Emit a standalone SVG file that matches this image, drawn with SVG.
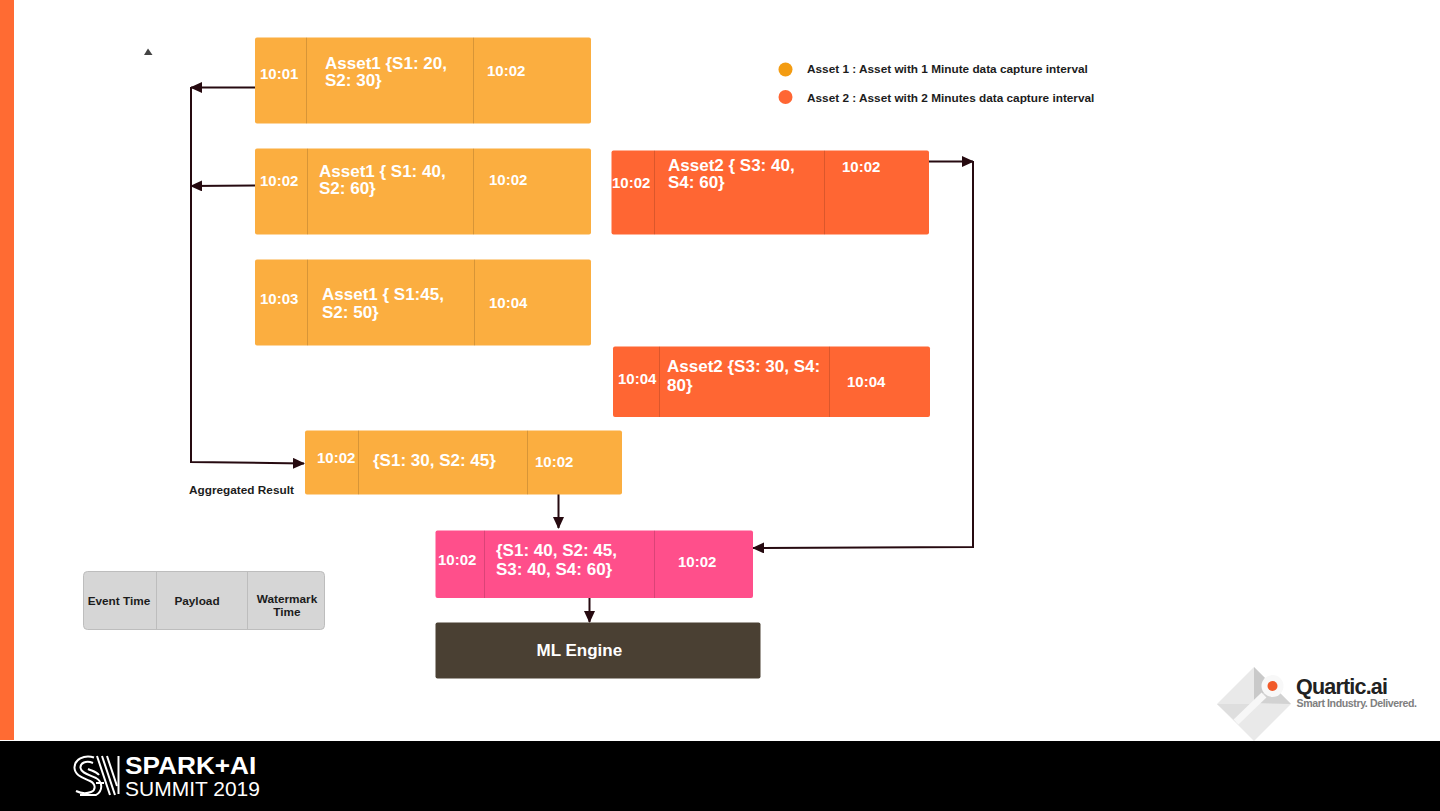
<svg xmlns="http://www.w3.org/2000/svg" width="1440" height="811" viewBox="0 0 1440 811">
<style>
text{font-family:"Liberation Sans",Arial,sans-serif;font-weight:700}
.w{fill:#fff}.t{font-size:15px}.p{font-size:17px}
.k{fill:#1c1c1c;font-size:11.800px}
.o{fill:#fbae40}.r{fill:#ff6633}.d{stroke:#000;stroke-opacity:.14;stroke-width:1}
.c{fill:none;stroke:#260a10;stroke-width:2}
</style>
<defs><marker id="a" markerWidth="13" markerHeight="12" refX="11" refY="5.500" orient="auto" markerUnits="userSpaceOnUse"><path d="M0 0L12 5.500L0 11z" fill="#260a10"/></marker></defs>
<rect width="1440" height="811" fill="#fff"/>
<rect id="sidebar" x="0" y="0" width="14" height="740" fill="#ff6b33"/>
<rect id="footer" x="0" y="741" width="1440" height="70" fill="#000"/>
<path d="M148 48.500L152.500 55H144z" fill="#444"/>

<g id="connectors">
<path class="c" d="M255 87.500H191" marker-end="url(#a)"/>
<path class="c" d="M191 87V462L304 463.500" marker-end="url(#a)"/>
<path class="c" d="M255 185.500L191 186" marker-end="url(#a)"/>
<path class="c" d="M929 161.500H973" marker-end="url(#a)"/>
<path class="c" d="M973 161V547L753 548" marker-end="url(#a)"/>
<path class="c" d="M558.500 494V528" marker-end="url(#a)"/>
<path class="c" d="M589.500 598V622" marker-end="url(#a)"/>
</g>

<g id="n1"><rect class="o" x="255" y="37.500" width="336" height="86" rx="2"/><path class="d" d="M306.500 37.500V123.500M473.500 37.500V123.500"/>
<text class="w t" x="260" y="79">10:01</text><text class="w p" x="325" y="68.500">Asset1 {S1: 20,</text><text class="w p" x="325" y="85.500">S2: 30}</text><text class="w t" x="487" y="76">10:02</text></g>
<g id="n2"><rect class="o" x="255" y="148.500" width="336" height="86" rx="2"/><path class="d" d="M307.500 148.500V234.500M473.500 148.500V234.500"/>
<text class="w t" x="260" y="186">10:02</text><text class="w p" x="319" y="176.500">Asset1 { S1: 40,</text><text class="w p" x="319" y="193.500">S2: 60}</text><text class="w t" x="489" y="185">10:02</text></g>
<g id="n3"><rect class="o" x="255" y="259.500" width="336" height="86" rx="2"/><path class="d" d="M307.500 259.500V345.500M474.500 259.500V345.500"/>
<text class="w t" x="260" y="304">10:03</text><text class="w p" x="322" y="300">Asset1 { S1:45,</text><text class="w p" x="322" y="317.500">S2: 50}</text><text class="w t" x="489" y="308">10:04</text></g>
<g id="n4"><rect class="r" x="611.500" y="150.500" width="317.500" height="84" rx="2"/><path class="d" d="M654.500 150.500V234.500M824.500 150.500V234.500"/>
<text class="w t" x="612" y="188">10:02</text><text class="w p" x="668" y="170.500">Asset2 { S3: 40,</text><text class="w p" x="668" y="187.500">S4: 60}</text><text class="w t" x="842" y="172">10:02</text></g>
<g id="n5"><rect class="r" x="613" y="346.500" width="317" height="70.500" rx="2"/><path class="d" d="M659.500 346.500V417M829.500 346.500V417"/>
<text class="w t" x="618" y="384">10:04</text><text class="w p" x="667" y="372">Asset2 {S3: 30, S4:</text><text class="w p" x="667" y="390.500">80}</text><text class="w t" x="847" y="387">10:04</text></g>
<g id="n6"><rect class="o" x="305" y="430.500" width="317" height="64" rx="2"/><path class="d" d="M358.500 430.500V494.500M527.500 430.500V494.500"/>
<text class="w t" x="317" y="463">10:02</text><text class="w p" x="373" y="466">{S1: 30, S2: 45}</text><text class="w t" x="535" y="467">10:02</text></g>
<g id="n7"><rect fill="#ff4f8b" x="435.500" y="530.500" width="317.500" height="67.500" rx="2"/><path class="d" d="M484.500 530.500V598M654.500 530.500V598"/>
<text class="w t" x="438" y="565">10:02</text><text class="w p" x="496" y="556">{S1: 40, S2: 45,</text><text class="w p" x="496" y="575">S3: 40, S4: 60}</text><text class="w t" x="678" y="567">10:02</text></g>
<g id="n8"><rect fill="#4a4033" x="435.500" y="622.500" width="325" height="56" rx="2"/><text class="w p" x="536.500" y="655.500">ML Engine</text></g>

<g id="legend-key"><rect x="83.500" y="571.500" width="241" height="58" rx="4" fill="#d6d6d6" stroke="#bdbdbd"/><path d="M156.500 571.500V629.500M247.500 571.500V629.500" stroke="#bdbdbd" fill="none"/>
<text class="k" x="119" y="605" text-anchor="middle">Event Time</text><text class="k" x="197" y="605" text-anchor="middle">Payload</text><text class="k" x="287" y="603" text-anchor="middle">Watermark</text><text class="k" x="287" y="615.500" text-anchor="middle">Time</text></g>

<g id="legend"><circle cx="785.500" cy="69.500" r="7" fill="#f39c12"/><circle cx="785.500" cy="97" r="7" fill="#ff6633"/>
<text class="k" x="807" y="73">Asset 1 : Asset with 1 Minute data capture interval</text><text class="k" x="807" y="101.500">Asset 2 : Asset with 2 Minutes data capture interval</text></g>

<text x="189" y="494" class="k">Aggregated Result</text>

<g id="quartic-logo">
<path d="M1254 667L1291 704L1254 741L1217 704z" fill="#e9e9e9"/>
<path d="M1254 667L1272 685L1254 703z" fill="#c9c9c9"/>
<path d="M1254 703L1272 685L1291 704z" fill="#d2d2d2"/>
<path d="M1217 704L1254 704L1236 722z" fill="#dedede"/>
<path d="M1236 722L1264 695" stroke="#f7f7f7" stroke-width="7" fill="none"/>
<circle cx="1272.500" cy="686" r="11" fill="#f8f8f8"/><circle cx="1272.500" cy="686" r="5" fill="#f15a29"/>
<text x="1296" y="694" style="font-size:21.500px;letter-spacing:-.8px" fill="#222">Quartic.ai</text>
<text x="1296.500" y="707" style="font-size:10.600px;letter-spacing:-.4px" fill="#808080">Smart Industry. Delivered.</text>
</g>

<g id="spark-logo" fill="none" stroke="#fff" stroke-width="2">
<path d="M94 757.500C84 754 74 760 74.500 768C75 776 84 778 90 781C96 784 96 790 91 792C86 794 80 793 76 791"/>
<path d="M93 763C86 760 80 763 80.500 768C81 773 90 775 96 778C103 782 103 791 96 795H80"/>
<path d="M88 769C92 771 96 771 99 775"/>
<path d="M97 756L110 795M102 756L115 795M107 756L117 786"/>
<path d="M104 783H96M118.500 756V794"/>
<text transform="translate(125 773.500) scale(1.14 1)" stroke="none" fill="#fff" style="font-size:23px">SPARK+AI</text>
<text transform="translate(125 796) scale(1.05 1)" stroke="none" fill="#fff" style="font-size:20px;font-weight:400">SUMMIT 2019</text>
</g>
</svg>
